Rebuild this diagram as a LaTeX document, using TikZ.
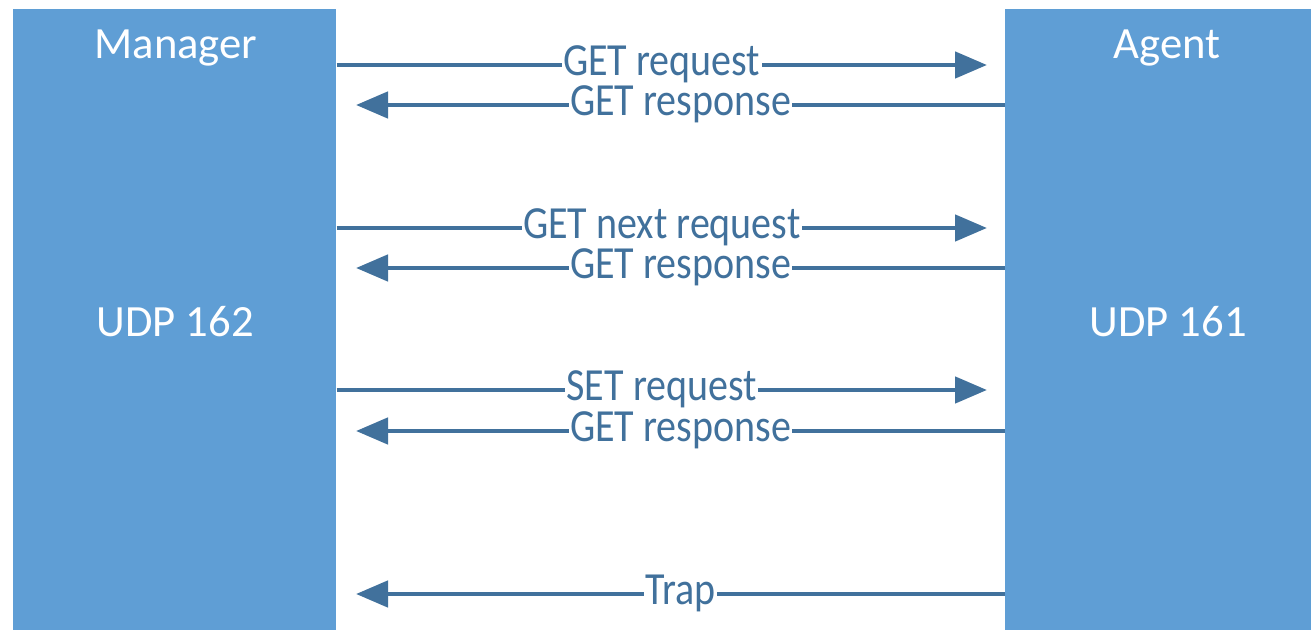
\documentclass[tikz,border=0pt]{standalone}
\usepackage{fontspec}
\setmainfont{Carlito}
\usetikzlibrary{arrows.meta}
\definecolor{boxblue}{RGB}{95,158,213}
\definecolor{arrowblue}{RGB}{65,113,156}
\tikzset{
  hostbox/.style={draw=none, fill=boxblue, rectangle, inner sep=0pt, anchor=north west},
  hosttext/.style={text=white, font=\fontsize{33.5pt}{38pt}\selectfont, inner sep=0pt},
  msg/.style={draw=arrowblue, line width=3.5pt, -{Triangle[length=24pt,width=19.5pt]}},
  msglabel/.style={fill=white, text=arrowblue, inner xsep=1pt, inner ysep=0pt,
    text height=16pt, text depth=0pt,
    font=\fontsize{30pt}{34pt}\selectfont},
}
\newcommand{\stretchtxt}[1]{\scalebox{1}[1.15]{#1}}
\begin{document}
\begin{tikzpicture}[x=0.75pt,y=-0.75pt]
\useasboundingbox (0,0) rectangle (1311,630);
\clip (0,0) rectangle (1311,630);
\fill[white] (0,0) rectangle (1311,630);
% boxes
\node[hostbox, minimum width=323*0.75pt, minimum height=640*0.75pt] (mgr) at (13,9) {};
\node[hostbox, minimum width=323*0.75pt, minimum height=640*0.75pt] (agt) at (1005,9) {};
% box texts
\node[hosttext] (mgrname) at (176,48) {Manager};
\node[hosttext] (mgrport) at (175,322) {UDP 162};
\node[hosttext] (agtname) at (1167,48) {Agent};
\node[hosttext] (agtport) at (1168,322) {UDP 161};
% endpoints
\coordinate (m1) at (mgr.east |- 0,65);
\coordinate (a1) at (987,65);
\coordinate (a2) at (agt.west |- 0,105);
\coordinate (m2) at (356,105);
\coordinate (m3) at (mgr.east |- 0,228);
\coordinate (a3) at (987,228);
\coordinate (a4) at (agt.west |- 0,268);
\coordinate (m4) at (356,268);
\coordinate (m5) at (mgr.east |- 0,390);
\coordinate (a5) at (987,390);
\coordinate (a6) at (agt.west |- 0,431);
\coordinate (m6) at (356,431);
\coordinate (a7) at (agt.west |- 0,594);
\coordinate (m7) at (356,594);
% messages
\draw[msg] (m1) -- node[msglabel] (l1) {\stretchtxt{GET request}} (a1);
\draw[msg] (a2) -- node[msglabel] (l2) {\stretchtxt{GET response}} (m2);
\draw[msg] (m3) -- node[msglabel] (l3) {\stretchtxt{GET next request}} (a3);
\draw[msg] (a4) -- node[msglabel] (l4) {\stretchtxt{GET response}} (m4);
\draw[msg] (m5) -- node[msglabel] (l5) {\stretchtxt{SET request}} (a5);
\draw[msg] (a6) -- node[msglabel] (l6) {\stretchtxt{GET response}} (m6);
\draw[msg] (a7) -- node[msglabel] (l7) {\stretchtxt{Trap}} (m7);
\end{tikzpicture}
\end{document}
